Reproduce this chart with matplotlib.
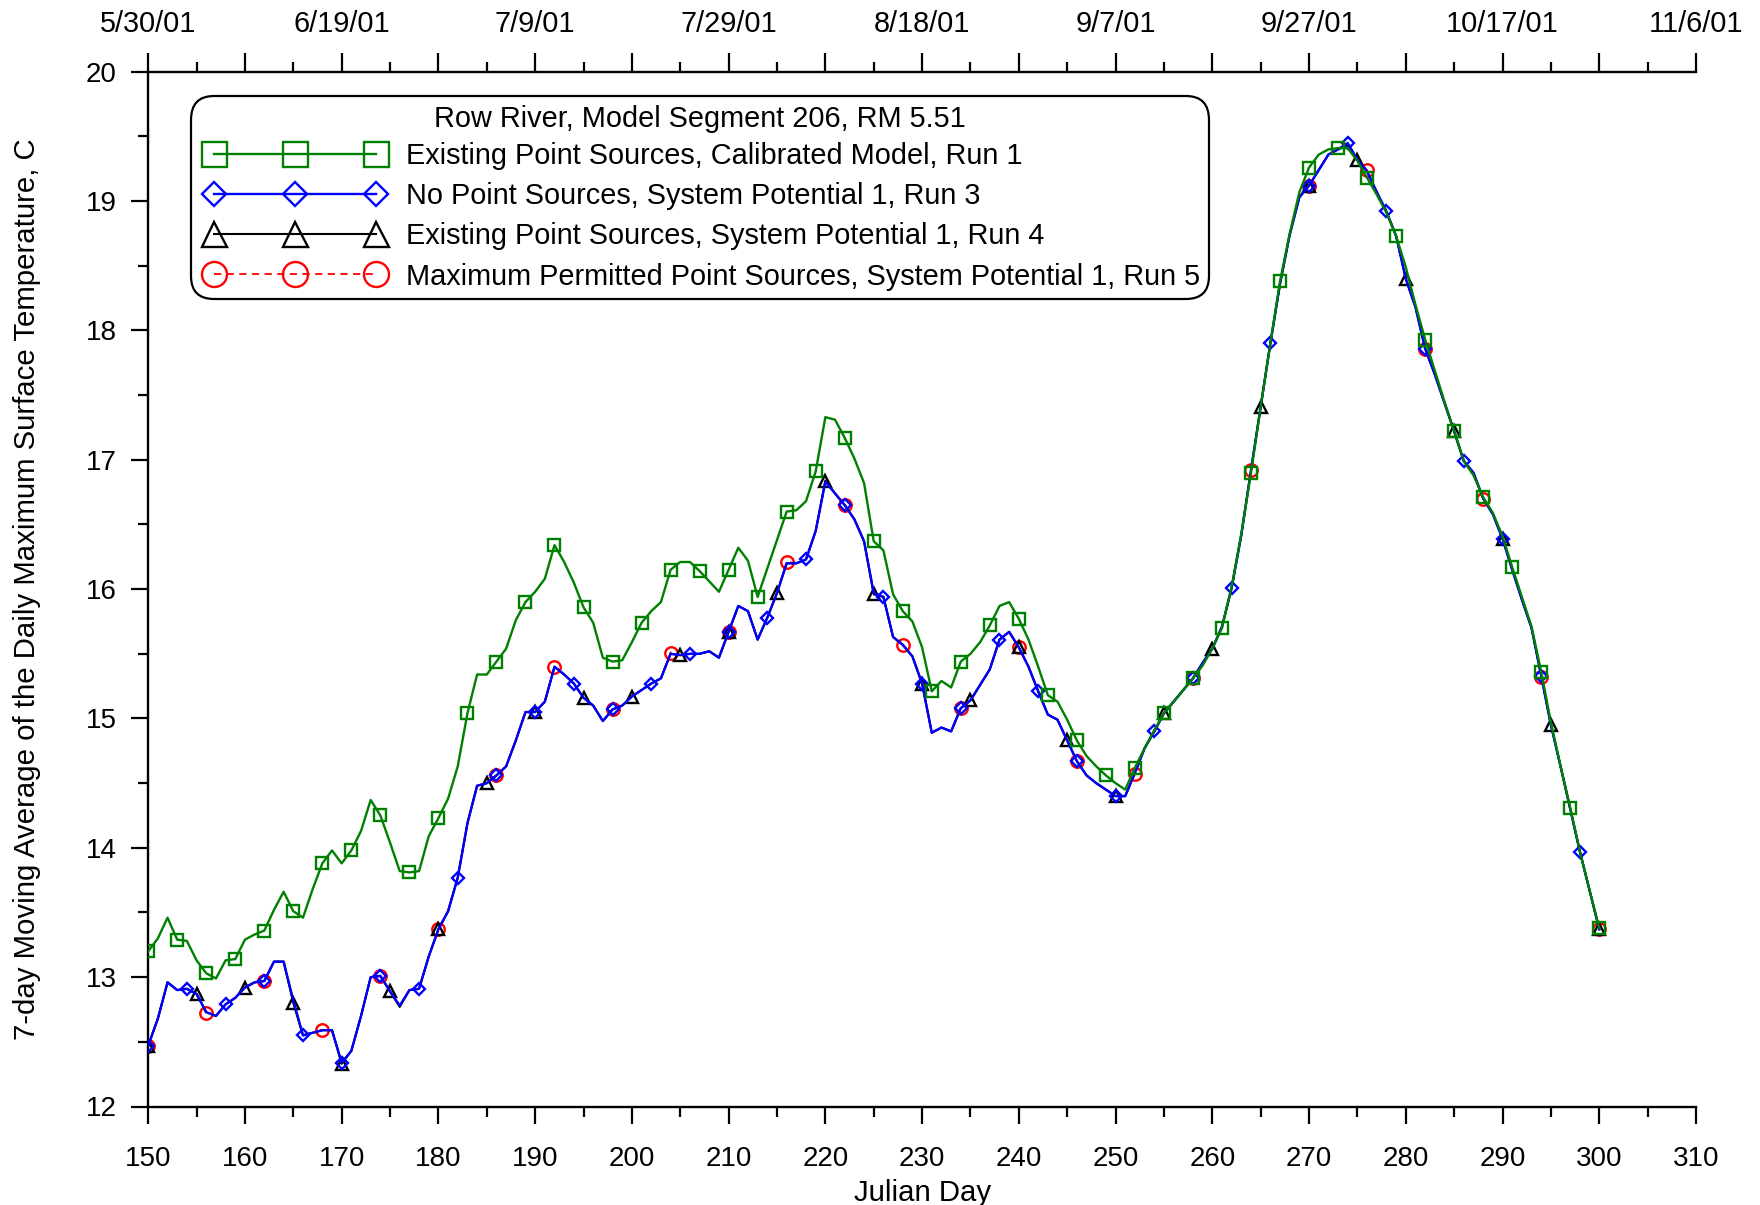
import matplotlib
matplotlib.use('Agg')
import matplotlib.pyplot as plt
from matplotlib.ticker import MultipleLocator, FixedLocator
from matplotlib.lines import Line2D
from matplotlib.legend_handler import HandlerLine2D

plt.rcParams['font.family'] = ['Liberation Sans', 'DejaVu Sans']

# ---------------- data ----------------
days = list(range(150, 301))

run1 = [13.20, 13.30, 13.46, 13.29, 13.28, 13.13, 13.03, 12.99, 13.13, 13.14,
        13.29, 13.33, 13.36, 13.52, 13.66, 13.51, 13.46, 13.68, 13.88, 13.98,
        13.88, 13.98, 14.13, 14.37, 14.25, 14.04, 13.82, 13.81, 13.82, 14.09,
        14.23, 14.38, 14.63, 15.04, 15.34, 15.34, 15.44, 15.54, 15.76, 15.90,
        15.98, 16.08, 16.34, 16.21, 16.05, 15.86, 15.74, 15.47, 15.44, 15.45,
        15.59, 15.74, 15.83, 15.90, 16.15, 16.21, 16.21, 16.14, 16.06, 15.98,
        16.15, 16.32, 16.22, 15.94, 16.16, 16.38, 16.60, 16.61, 16.68, 16.91,
        17.33, 17.31, 17.17, 17.01, 16.82, 16.37, 16.30, 15.96, 15.83, 15.75,
        15.55, 15.21, 15.29, 15.24, 15.44, 15.50, 15.59, 15.72, 15.87, 15.90,
        15.77, 15.61, 15.40, 15.18, 15.13, 14.99, 14.83, 14.71, 14.63, 14.56,
        14.50, 14.45, 14.62, 14.77, 14.91, 15.04, 15.13, 15.22, 15.31, 15.41,
        15.54, 15.70, 16.02, 16.43, 16.90, 17.41, 17.90, 18.38, 18.75, 19.07,
        19.26, 19.36, 19.40, 19.41, 19.41, 19.31, 19.18, 19.05, 18.91, 18.73,
        18.49, 18.20, 17.93, 17.69, 17.45, 17.22, 16.99, 16.88, 16.71, 16.59,
        16.41, 16.17, 15.94, 15.71, 15.36, 14.97, 14.63, 14.31, 13.97, 13.67,
        13.38]

run3 = [12.47, 12.68, 12.96, 12.90, 12.91, 12.87, 12.73, 12.70, 12.79, 12.84,
        12.92, 12.96, 12.97, 13.12, 13.12, 12.82, 12.55, 12.57, 12.59, 12.59,
        12.34, 12.43, 12.70, 13.00, 13.01, 12.89, 12.78, 12.90, 12.91, 13.16,
        13.37, 13.51, 13.77, 14.19, 14.48, 14.50, 14.56, 14.63, 14.83, 15.05,
        15.05, 15.13, 15.40, 15.34, 15.27, 15.16, 15.10, 14.98, 15.07, 15.10,
        15.17, 15.22, 15.27, 15.31, 15.50, 15.49, 15.50, 15.50, 15.52, 15.47,
        15.67, 15.87, 15.83, 15.61, 15.78, 15.97, 16.20, 16.20, 16.23, 16.45,
        16.83, 16.74, 16.65, 16.54, 16.37, 15.97, 15.94, 15.63, 15.57, 15.48,
        15.27, 14.89, 14.93, 14.90, 15.08, 15.14, 15.26, 15.38, 15.61, 15.67,
        15.55, 15.40, 15.21, 15.03, 14.99, 14.83, 14.67, 14.56, 14.50, 14.45,
        14.40, 14.40, 14.58, 14.77, 14.90, 15.04, 15.13, 15.22, 15.31, 15.43,
        15.54, 15.71, 16.01, 16.42, 16.92, 17.41, 17.90, 18.36, 18.74, 19.03,
        19.12, 19.24, 19.36, 19.40, 19.45, 19.32, 19.23, 19.07, 18.92, 18.73,
        18.40, 18.18, 17.86, 17.66, 17.44, 17.22, 16.99, 16.90, 16.70, 16.58,
        16.39, 16.15, 15.92, 15.70, 15.33, 14.95, 14.63, 14.30, 13.97, 13.67,
        13.37]

run4 = [12.47, 12.68, 12.96, 12.90, 12.91, 12.87, 12.73, 12.70, 12.79, 12.84,
        12.92, 12.96, 12.97, 13.12, 13.12, 12.80, 12.55, 12.57, 12.59, 12.59,
        12.33, 12.43, 12.70, 13.00, 13.01, 12.89, 12.77, 12.90, 12.91, 13.16,
        13.37, 13.51, 13.77, 14.19, 14.48, 14.50, 14.56, 14.63, 14.83, 15.05,
        15.05, 15.13, 15.40, 15.34, 15.27, 15.16, 15.10, 14.98, 15.07, 15.10,
        15.17, 15.22, 15.27, 15.31, 15.50, 15.49, 15.50, 15.50, 15.52, 15.47,
        15.67, 15.87, 15.83, 15.61, 15.78, 15.97, 16.20, 16.20, 16.23, 16.45,
        16.84, 16.74, 16.65, 16.54, 16.37, 15.96, 15.94, 15.63, 15.57, 15.48,
        15.27, 14.89, 14.93, 14.90, 15.08, 15.14, 15.26, 15.38, 15.61, 15.67,
        15.55, 15.40, 15.21, 15.03, 14.99, 14.83, 14.67, 14.56, 14.50, 14.45,
        14.40, 14.40, 14.58, 14.77, 14.90, 15.04, 15.13, 15.22, 15.31, 15.43,
        15.54, 15.71, 16.01, 16.42, 16.92, 17.41, 17.90, 18.36, 18.74, 19.03,
        19.12, 19.24, 19.36, 19.40, 19.43, 19.32, 19.23, 19.07, 18.92, 18.73,
        18.40, 18.18, 17.86, 17.66, 17.44, 17.22, 16.99, 16.90, 16.70, 16.58,
        16.39, 16.15, 15.92, 15.70, 15.33, 14.95, 14.63, 14.30, 13.97, 13.67,
        13.37]

run5 = [12.47, 12.68, 12.96, 12.90, 12.91, 12.87, 12.72, 12.70, 12.79, 12.84,
        12.92, 12.96, 12.97, 13.12, 13.12, 12.82, 12.55, 12.57, 12.59, 12.59,
        12.34, 12.43, 12.70, 13.00, 13.01, 12.89, 12.78, 12.90, 12.91, 13.16,
        13.37, 13.51, 13.77, 14.19, 14.48, 14.50, 14.56, 14.63, 14.83, 15.05,
        15.05, 15.13, 15.40, 15.34, 15.27, 15.16, 15.10, 14.98, 15.07, 15.10,
        15.17, 15.22, 15.27, 15.31, 15.51, 15.49, 15.50, 15.50, 15.52, 15.47,
        15.67, 15.87, 15.83, 15.61, 15.78, 15.97, 16.21, 16.20, 16.23, 16.45,
        16.83, 16.74, 16.65, 16.54, 16.37, 15.97, 15.94, 15.63, 15.57, 15.48,
        15.27, 14.89, 14.93, 14.90, 15.08, 15.14, 15.26, 15.38, 15.61, 15.67,
        15.55, 15.40, 15.21, 15.03, 14.99, 14.83, 14.67, 14.56, 14.50, 14.45,
        14.40, 14.40, 14.57, 14.77, 14.90, 15.04, 15.13, 15.22, 15.31, 15.43,
        15.54, 15.71, 16.01, 16.42, 16.92, 17.41, 17.90, 18.36, 18.74, 19.03,
        19.12, 19.24, 19.36, 19.40, 19.45, 19.32, 19.24, 19.07, 18.92, 18.73,
        18.40, 18.18, 17.86, 17.66, 17.44, 17.22, 16.99, 16.90, 16.70, 16.58,
        16.39, 16.15, 15.92, 15.70, 15.32, 14.95, 14.63, 14.30, 13.97, 13.67,
        13.37]

labels = ["Existing Point Sources, Calibrated Model, Run 1",
          "No Point Sources, System Potential 1, Run 3",
          "Existing Point Sources, System Potential 1, Run 4",
          "Maximum Permitted Point Sources, System Potential 1, Run 5"]
legend_title = "Row River, Model Segment 206, RM 5.51"

date_ticks = [150, 170, 190, 210, 230, 250, 270, 290, 310]
date_labels = ["5/30/01", "6/19/01", "7/9/01", "7/29/01", "8/18/01",
               "9/7/01", "9/27/01", "10/17/01", "11/6/01"]

# ---------------- figure ----------------
W, H = 1760, 1205
fig = plt.figure(figsize=(W / 100, H / 100), dpi=100)
x0, x1, ytop, ybot = 148.2, 1696.0, 71.8, 1106.5
ax = fig.add_axes([x0 / W, 1 - ybot / H, (x1 - x0) / W, (ybot - ytop) / H])

green = '#008000'
l1, = ax.plot(days, run1, color=green, lw=1.7, marker='s', ms=9, mfc='none',
              mec=green, mew=1.7, markevery=3, zorder=5, label=labels[0])
l3, = ax.plot(days, run3, color='#0000ff', lw=1.7, marker='D', ms=6.2, mfc='none',
              mec='#0000ff', mew=1.7, markevery=4, zorder=4, label=labels[1])
l4, = ax.plot(days, run4, color='black', lw=1.5, marker='^', ms=9, mfc='none',
              mec='black', mew=1.7, markevery=5, zorder=3, label=labels[2])
l5, = ax.plot(days, run5, color='#ff0000', lw=1.3, ls=(0, (4, 3)), marker='o', ms=9,
              mfc='none', mec='#ff0000', mew=1.7, markevery=6, zorder=2, label=labels[3])

ax.set_xlim(150, 310)
ax.set_ylim(12, 20)
ax.xaxis.set_major_locator(MultipleLocator(10))
ax.xaxis.set_minor_locator(MultipleLocator(5))
ax.yaxis.set_major_locator(MultipleLocator(1))
ax.yaxis.set_minor_locator(MultipleLocator(0.5))

for s in ['right', 'top']:
    ax.spines[s].set_visible(False)
for s in ['left', 'bottom']:
    ax.spines[s].set_linewidth(1.7)

ax.tick_params(which='major', direction='out', length=12.5, width=1.6,
               labelsize=20)
ax.tick_params(axis='y', which='major', pad=10)
ax.tick_params(axis='x', which='major', pad=16)
ax.tick_params(which='minor', direction='out', length=7, width=1.6)

top = ax.secondary_xaxis('top')
top_major = list(range(150, 311, 10))
top.xaxis.set_major_locator(FixedLocator(top_major))
top.set_xticklabels([date_labels[date_ticks.index(d)] if d in date_ticks else ''
                     for d in top_major])
top.xaxis.set_minor_locator(MultipleLocator(5))
top.tick_params(which='major', direction='out', length=14, width=1.6,
                labelsize=20.8, pad=10)
top.tick_params(which='minor', direction='out', length=7, width=1.6)
top.spines['top'].set_linewidth(1.7)

ax.set_xlabel('Julian Day', fontsize=21.2)
ax.xaxis.set_label_coords(0.5, (ybot - 1193) / (ybot - ytop))
ax.xaxis.label.set_va('center')
ax.set_ylabel('7-day Moving Average of the Daily Maximum Surface Temperature, C',
              fontsize=21.2)
ax.yaxis.set_label_coords((27 - x0) / (x1 - x0), 0.5)
ax.yaxis.label.set_va('center')

leg = ax.legend(handles=[l1, l3, l4, l5], title=legend_title,
                loc='upper left', bbox_to_anchor=(191 / W, 1 - 96.5 / H),
                bbox_transform=fig.transFigure, numpoints=3, markerscale=2.0,
                handlelength=6.6, handletextpad=0.55, labelspacing=0.42,
                borderpad=0.3, borderaxespad=0, fontsize=20.8, title_fontsize=20.8,
                fancybox=True, framealpha=1, edgecolor='black',
                handler_map={Line2D: HandlerLine2D(marker_pad=0.5)})
leg._legend_box.sep = 6.5
leg.get_frame().set_linewidth(1.6)
leg.get_frame().set_boxstyle('round,pad=0,rounding_size=0.8')
leg.set_zorder(10)

fig.savefig('out.png', dpi=100)
